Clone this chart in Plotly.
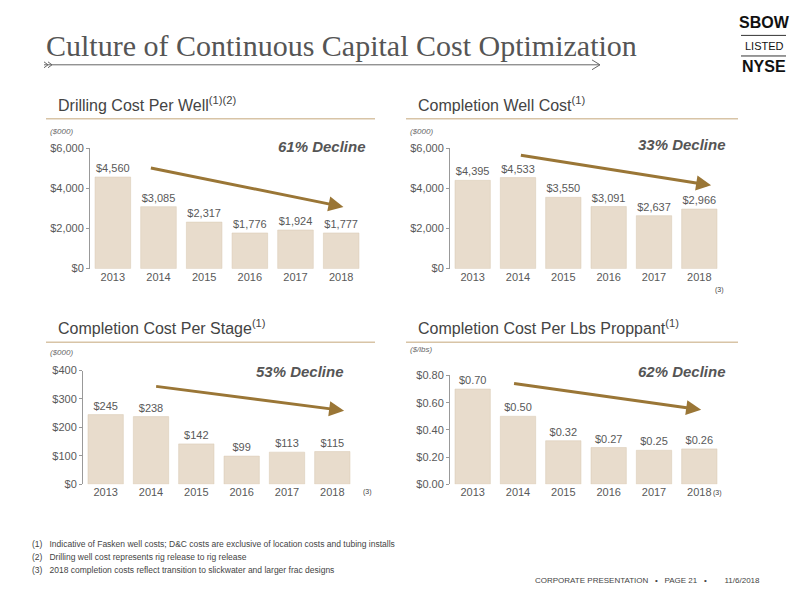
import plotly.graph_objects as go

years = ["2013", "2014", "2015", "2016", "2017", "2018"]
drilling = [4560, 3085, 2317, 1776, 1924, 1777]
completion = [4395, 4533, 3550, 3091, 2637, 2966]
per_stage = [245, 238, 142, 99, 113, 115]
per_lbs = [0.70, 0.50, 0.32, 0.27, 0.25, 0.26]

drill_lbl = ["$4,560", "$3,085", "$2,317", "$1,776", "$1,924", "$1,777"]
comp_lbl = ["$4,395", "$4,533", "$3,550", "$3,091", "$2,637", "$2,966"]
stage_lbl = ["$245", "$238", "$142", "$99", "$113", "$115"]
lbs_lbl = ["$0.70", "$0.50", "$0.32", "$0.27", "$0.25", "$0.26"]

W, H = 800, 600
BAR = "#e8dccc"
ARROW = "#9a7636"
GRAY = "#595959"
FONT = "Liberation Sans"


def px(x):
    return x / W


def py(y):
    return 1 - y / H


def note(x, y, text, size, color="#444", family=FONT, xanchor="left"):
    fig.add_annotation(x=px(x), y=py(y), xref="paper", yref="paper",
                       xanchor=xanchor, yanchor="middle", showarrow=False,
                       text=text, font=dict(size=size, color=color, family=family))


fig = go.Figure()

panels = [
    # values, labels, xdom(px), ydom(px top,bottom), yrange, tickvals, ticktext, arrow
    (drilling, drill_lbl, (90, 364), (145, 268), [0, 6000],
     [0, 2000, 4000, 6000], ["$0", "$2,000", "$4,000", "$6,000"],
     (0.8, 5024, 5.05, 3073)),
    (completion, comp_lbl, (450, 722), (145, 268), [0, 6000],
     [0, 2000, 4000, 6000], ["$0", "$2,000", "$4,000", "$6,000"],
     (1.03, 5659, 5.26, 4146)),
    (per_stage, stage_lbl, (83, 355), (372, 488), [0, 400],
     [0, 100, 200, 300, 400], ["$0", "$100", "$200", "$300", "$400"],
     (1.08, 345, 5.26, 259)),
    (per_lbs, lbs_lbl, (450, 722), (377, 488), [0, 0.8],
     [0, 0.2, 0.4, 0.6, 0.8], ["$0.00", "$0.20", "$0.40", "$0.60", "$0.80"],
     (0.88, 0.742, 5.04, 0.548)),
]

layout = {}
for i, (vals, lbls, xd, yd, yr, tv, tt, arr) in enumerate(panels, start=1):
    xa = "x" if i == 1 else f"x{i}"
    ya = "y" if i == 1 else f"y{i}"
    fig.add_trace(go.Bar(
        x=years, y=vals, text=lbls, textposition="outside",
        textfont=dict(size=11, color=GRAY, family=FONT), cliponaxis=False,
        marker=dict(color=BAR, line=dict(color="#d9c9b3", width=0.5)),
        width=0.78, xaxis=xa, yaxis=ya, showlegend=False, hoverinfo="skip",
    ))
    layout["xaxis" if i == 1 else f"xaxis{i}"] = dict(
        domain=[px(xd[0]), px(xd[1])], anchor=ya, type="category",
        showline=False, ticks="", tickfont=dict(size=11, color=GRAY, family=FONT),
        fixedrange=True,
    )
    layout["yaxis" if i == 1 else f"yaxis{i}"] = dict(
        domain=[py(yd[1]), py(yd[0])], anchor=xa, range=yr,
        tickvals=tv, ticktext=tt, showgrid=False, zeroline=False,
        showline=True, linecolor="#999", linewidth=1, ticks="outside",
        ticklen=3, tickcolor="#999",
        tickfont=dict(size=11, color=GRAY, family=FONT),
    )
    x0, y0, x1, y1 = arr
    fig.add_annotation(x=x1, y=y1, ax=x0, ay=y0, xref=xa, yref=ya,
                       axref=xa, ayref=ya, showarrow=True, arrowhead=2,
                       arrowsize=1, arrowwidth=3, arrowcolor=ARROW, text="")

fig.update_layout(**layout)

# decline labels
for x, y, t in [(368, 143, "61% Decline"), (728, 141, "33% Decline"),
                (346, 373, "53% Decline"), (728, 373, "62% Decline")]:
    note(x, y, "<b><i>" + t + "</i></b>", 15, "#555", xanchor="right")

# section titles and underlines
for x, y, x2, t in [(56, 100, 375, "Drilling Cost Per Well<sup>(1)(2)</sup>"),
                    (416, 100, 738, "Completion Well Cost<sup>(1)</sup>"),
                    (56, 328, 375, "Completion Cost Per Stage<sup>(1)</sup>"),
                    (416, 328, 738, "Completion Cost Per Lbs Proppant<sup>(1)</sup>")]:
    note(x, y, t, 16)
    fig.add_shape(type="line", xref="paper", yref="paper",
                  x0=px(x - 10), x1=px(x2), y0=py(y + 15), y1=py(y + 15),
                  line=dict(color="#d8c4a6", width=1.5))

# units
for x, y, t in [(48, 128, "($000)"), (408, 128, "($000)"),
                (48, 354, "($000)"), (408, 351, "($/lbs)")]:
    note(x, y, "<i>" + t + "</i>", 8, "#666")

# (3) marks
for x, y in [(719, 290), (367, 496), (717, 497)]:
    note(x, y, "(3)", 7, xanchor="center")

# title
note(44, 40, "Culture of Continuous Capital Cost Optimization", 30, "#555",
     family="Liberation Serif")
fig.add_shape(type="line", xref="paper", yref="paper",
              x0=px(44), x1=px(600), y0=py(60), y1=py(60),
              line=dict(color="#666", width=1))
fig.add_shape(type="path", xref="paper", yref="paper",
              path=f"M {px(592)},{py(55)} L {px(600)},{py(60)} L {px(592)},{py(65)}",
              line=dict(color="#666", width=1))
for dx in (44, 48):
    fig.add_shape(type="path", xref="paper", yref="paper",
                  path=f"M {px(dx)},{py(57)} L {px(dx+4)},{py(60)} L {px(dx)},{py(63)}",
                  line=dict(color="#666", width=1))

# logo
note(764, 17, "<b>SBOW</b>", 16, "#111", xanchor="center")
note(764, 41, "LISTED", 11, "#111", xanchor="center")
note(764, 62, "<b>NYSE</b>", 16, "#111", xanchor="center")
for y in (30, 51):
    fig.add_shape(type="line", xref="paper", yref="paper", x0=px(741), x1=px(786),
                  y0=py(y), y1=py(y), line=dict(color="#333", width=1))

# footnotes
notes = ["(1)   Indicative of Fasken well costs; D&C costs are exclusive of location costs and tubing installs",
         "(2)   Drilling well cost represents rig release to rig release",
         "(3)   2018 completion costs reflect transition to slickwater and larger frac designs"]
for k, n in enumerate(notes):
    note(30, 549 + k * 13, n, 8.5)
note(762, 586, "CORPORATE PRESENTATION   •   PAGE 21   •        11/6/2018", 8,
     xanchor="right")

fig.update_layout(width=W, height=H, margin=dict(l=0, r=0, t=0, b=0, pad=0),
                  plot_bgcolor="white", paper_bgcolor="white", bargap=0.22)
fig.write_html("out.html", config={"displayModeBar": False},
               post_script="document.body.style.margin='0';")
